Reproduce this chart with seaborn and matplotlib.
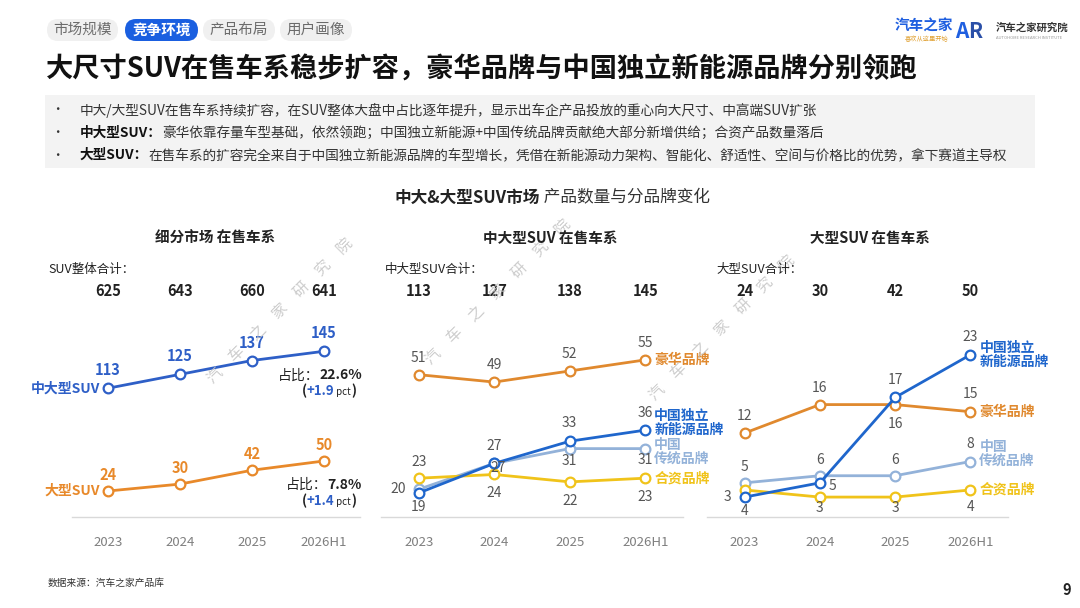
import matplotlib
matplotlib.use("Agg")
import matplotlib.pyplot as plt
import seaborn as sns
import pandas as pd
from matplotlib.patches import FancyBboxPatch, Rectangle
from matplotlib.transforms import blended_transform_factory

# ---- data ----
years = ["2023", "2024", "2025", "2026H1"]
suv_total = [625, 643, 660, 641]
mid_large_total = [113, 127, 138, 145]
large_total = [24, 30, 42, 50]

seg_mid_large = [113, 125, 137, 145]
seg_large = [24, 30, 42, 50]

mid_luxury = [51, 49, 52, 55]
mid_cn_nev = [19, 27, 33, 36]
mid_cn_trad = [20, 27, 31, 31]
mid_jv = [23, 24, 22, 23]

lg_luxury = [12, 16, 16, 15]
lg_cn_nev = [3, 5, 17, 23]
lg_cn_trad = [5, 6, 6, 8]
lg_jv = [4, 3, 3, 4]

tabs = ["市场规模", "竞争环境", "产品布局", "用户画像"]
title = "大尺寸SUV在售车系稳步扩容，豪华品牌与中国独立新能源品牌分别领跑"
bullets = [
    ("", "中大/大型SUV在售车系持续扩容，在SUV整体大盘中占比逐年提升，显示出车企产品投放的重心向大尺寸、中高端SUV扩张"),
    ("中大型SUV：", "豪华依靠存量车型基础，依然领跑；中国独立新能源+中国传统品牌贡献绝大部分新增供给；合资产品数量落后"),
    ("大型SUV：", "在售车系的扩容完全来自于中国独立新能源品牌的车型增长，凭借在新能源动力架构、智能化、舒适性、空间与价格比的优势，拿下赛道主导权"),
]

BLUE = "#2e5fc7"
ORANGE = "#e8892a"
LUX = "#e0892e"
NEV = "#1f66cc"
TRAD = "#93b2d9"
JV = "#f0c31a"
GRAY = "#555555"

W, H = 1080, 608
sns.set_style("white")
plt.rcParams["font.family"] = ["Noto Sans CJK SC", "DejaVu Sans"]

fig = plt.figure(figsize=(W / 100, H / 100), dpi=100)
fig.patch.set_facecolor("white")
renderer = fig.canvas.get_renderer()


def inch(x, y):
    return x / 100, (H - y) / 100


def rich(x, y, parts, ha="left", va="center"):
    """draw text pieces side by side, x/y in pixels from top-left"""
    texts = []
    for s, kw in parts:
        t = fig.text(0, 0, s, transform=fig.dpi_scale_trans, ha="left", va=va, **kw)
        texts.append(t)
    widths = [t.get_window_extent(renderer).width for t in texts]
    total = sum(widths)
    start = x - total if ha == "right" else (x - total / 2 if ha == "center" else x)
    for t, w in zip(texts, widths):
        t.set_position(inch(start, y))
        start += w


# ---- header ----
tab_x = [(47, 118), (125, 198), (203, 275), (280, 352)]
for name, (x0, x1) in zip(tabs, tab_x):
    active = name == "竞争环境"
    box = FancyBboxPatch(inch(x0, 41), (x1 - x0) / 100, 0.22,
                         boxstyle="round,pad=0,rounding_size=0.11",
                         transform=fig.dpi_scale_trans,
                         facecolor="#1a5fe0" if active else "#f0f0f0",
                         edgecolor="none")
    fig.patches.append(box)
    fig.text(*inch((x0 + x1) / 2, 30), name, transform=fig.dpi_scale_trans,
             ha="center", va="center", fontsize=10.5,
             color="white" if active else "#6b6b6b",
             fontweight="bold" if active else "normal")

fig.text(*inch(46, 70), title, transform=fig.dpi_scale_trans, ha="left",
         va="center", fontsize=19.6, fontweight="bold", color="#111111")

# logos
fig.text(*inch(895, 26), "汽车之家", transform=fig.dpi_scale_trans, ha="left",
         va="center", fontsize=10.5, fontweight="bold", color="#1f5fe0")
fig.text(*inch(905, 39), "喜欢从这里开始", transform=fig.dpi_scale_trans, ha="left",
         va="center", fontsize=4.5, color="#e0a030")
rich(955, 31, [("A", dict(fontsize=15, fontweight="bold", color="#1f5fe0")),
               ("R", dict(fontsize=15, fontweight="bold", color="#2a4fa8"))])
fig.text(*inch(996, 28), "汽车之家研究院", transform=fig.dpi_scale_trans, ha="left",
         va="center", fontsize=7.5, fontweight="bold", color="#333333")
fig.text(*inch(996, 38), "AUTOHOME RESEARCH INSTITUTE", transform=fig.dpi_scale_trans,
         ha="left", va="center", fontsize=3, color="#999999")

# bullet box
fig.patches.append(Rectangle(inch(45, 168), 990 / 100, 73 / 100,
                             transform=fig.dpi_scale_trans,
                             facecolor="#f3f3f3", edgecolor="none"))
for i, (head, body) in enumerate(bullets):
    y = 110 + i * 22.5
    fig.text(*inch(57, y), "•", transform=fig.dpi_scale_trans, ha="center",
             va="center", fontsize=9, color="#333333")
    parts = []
    if head:
        parts.append((head, dict(fontsize=9.85, fontweight="bold", color="#111111")))
    parts.append((body, dict(fontsize=9.85, color="#333333")))
    rich(80, y, parts)

rich(552, 198, [("中大&大型SUV市场", dict(fontsize=12, fontweight="bold", color="#222222")),
                (" 产品数量与分品牌变化", dict(fontsize=12, color="#333333"))],
     ha="center")

# watermarks
for cx, cy in [(280, 311), (498, 292), (722, 328)]:
    fig.text(*inch(cx, cy), "汽　车　之　家　研　究　院", transform=fig.dpi_scale_trans,
             ha="center", va="center", rotation=45, fontsize=11,
             color="#c4c4c4", alpha=0.85, zorder=0)

# ---- panels ----
panels = [
    dict(left=72, width=288, ylim=(1.5, 189.4), title="细分市场 在售车系", tx=215,
         total_label="SUV整体合计：", lx=48, totals=suv_total,
         series=[("中大型SUV", seg_mid_large, BLUE), ("大型SUV", seg_large, ORANGE)]),
    dict(left=381, width=302, ylim=(12.5, 71.2), title="中大型SUV 在售车系", tx=550,
         total_label="中大型SUV合计：", lx=385, totals=mid_large_total,
         series=[("豪华品牌", mid_luxury, LUX), ("中国传统品牌", mid_cn_trad, TRAD),
                 ("合资品牌", mid_jv, JV), ("中国独立新能源品牌", mid_cn_nev, NEV)]),
    dict(left=707, width=301, ylim=(0.2, 30.7), title="大型SUV 在售车系", tx=870,
         total_label="大型SUV合计：", lx=716, totals=large_total,
         series=[("豪华品牌", lg_luxury, LUX), ("中国传统品牌", lg_cn_trad, TRAD),
                 ("合资品牌", lg_jv, JV), ("中国独立新能源品牌", lg_cn_nev, NEV)]),
]

# label offsets in pixels (dx, dy up)
offsets = [
    {"中大型SUV": [(0, 18)] * 4, "大型SUV": [(0, 16)] * 4},
    {"豪华品牌": [(0, 17)] * 4,
     "中国独立新能源品牌": [(0, -14), (0, 17), (0, 18), (0, 17)],
     "中国传统品牌": [(-13, 0), (4, -5), (0, -12), (0, -11)],
     "合资品牌": [(0, 16), (0, -19), (0, -19), (0, -19)]},
    {"豪华品牌": [(0, 17), (0, 17), (0, -19), (0, 18)],
     "中国独立新能源品牌": [(-13, 0), (9, -3), (0, 17), (0, 18)],
     "中国传统品牌": [(0, 16), (0, 16), (0, 16), (0, 18)],
     "合资品牌": [(0, -21), (0, -11), (0, -11), (0, -17)]},
]
end_labels = [
    {},
    {"豪华品牌": ("豪华品牌", 0), "中国独立新能源品牌": ("中国独立\n新能源品牌", 7),
     "中国传统品牌": ("中国\n传统品牌", -3), "合资品牌": ("合资品牌", 0)},
    {"豪华品牌": ("豪华品牌", 0), "中国独立新能源品牌": ("中国独立\n新能源品牌", 0),
     "中国传统品牌": ("中国\n传统品牌", 8), "合资品牌": ("合资品牌", 0)},
]

axes = []
for p_i, p in enumerate(panels):
    ax = fig.add_axes([p["left"] / W, (H - 517) / H, p["width"] / W, 217 / H])
    axes.append(ax)
    rows = []
    for name, vals, col in p["series"]:
        for yr, v in zip(years, vals):
            rows.append({"year": yr, "value": v, "series": name})
    df = pd.DataFrame(rows)
    pal = {name: col for name, vals, col in p["series"]}
    sns.lineplot(data=df, x="year", y="value", hue="series", palette=pal,
                 marker="o", markersize=7, linewidth=2, sort=False,
                 legend=False, ax=ax)
    for line in ax.lines:
        line.set_markeredgecolor(line.get_color())
        line.set_markerfacecolor("white")
        line.set_markeredgewidth(1.6)

    ax.set_xlim(-0.5, 3.5)
    ax.set_ylim(*p["ylim"])
    ax.set_xlabel("")
    ax.set_ylabel("")
    ax.set_yticks([])
    ax.set_facecolor("none")
    for s in ["top", "left", "right"]:
        ax.spines[s].set_visible(False)
    ax.spines["bottom"].set_color("#d9d9d9")
    ax.spines["bottom"].set_linewidth(1)
    ax.tick_params(axis="x", length=0, pad=14, labelsize=9.5, labelcolor="#7f7f7f")

    trans = blended_transform_factory(ax.transData, ax.transAxes)
    for i, t in enumerate(p["totals"]):
        ax.text(i, (517 - 291) / 217, str(t), transform=trans, ha="center",
                va="center", fontsize=10.5, fontweight="bold", color="#222222")
    fig.text(*inch(p["lx"], 269), p["total_label"], transform=fig.dpi_scale_trans,
             ha="left", va="center", fontsize=9, color="#222222")
    fig.text(*inch(p["tx"], 238), p["title"], transform=fig.dpi_scale_trans,
             ha="center", va="center", fontsize=10.5, fontweight="bold", color="#222222")

    for name, vals, col in p["series"]:
        for i, v in enumerate(vals):
            dx, dy = offsets[p_i][name][i]
            ha = "right" if dx < -5 else ("left" if dx > 5 else "center")
            ax.annotate(str(v), (i, v), xytext=(dx, dy), textcoords="offset pixels",
                        ha=ha, va="center", fontsize=10.5 if p_i == 0 else 10,
                        color=col if p_i == 0 else GRAY,
                        fontweight="bold" if p_i == 0 else "normal")
        if name in end_labels[p_i]:
            lab, dy = end_labels[p_i][name]
            ax.annotate(lab, (3, vals[3]), xytext=(9, dy), textcoords="offset pixels",
                        ha="left", va="center", fontsize=10, fontweight="bold",
                        color=col, linespacing=1.0, annotation_clip=False)
        if p_i == 0:
            ax.annotate(name, (0, vals[0]), xytext=(-8, 0), textcoords="offset pixels",
                        ha="right", va="center", fontsize=10, fontweight="bold",
                        color=col, annotation_clip=False)

# share notes in first panel
ax0 = axes[0]
share = [("22.6%", "+1.9", seg_mid_large[3]), ("7.8%", "+1.4", seg_large[3])]
for pct, delta, v in share:
    xd, yd = ax0.transData.transform((3, v))
    xp, yp = xd, H - yd
    rich(xp + 38, yp + 24, [("占比：", dict(fontsize=10, color="#222222")),
                            (pct, dict(fontsize=10, fontweight="bold", color="#222222"))],
         ha="right", va="center")
    rich(xp + 32, yp + 44, [("(", dict(fontsize=9.5, fontweight="bold", color="#222222")),
                            (delta, dict(fontsize=9.5, fontweight="bold", color=BLUE)),
                            (" pct", dict(fontsize=7, color="#222222")),
                            (")", dict(fontsize=9.5, fontweight="bold", color="#222222"))],
         ha="right", va="baseline")

# footer
fig.text(*inch(48, 583), "数据来源：汽车之家产品库", transform=fig.dpi_scale_trans,
         ha="left", va="center", fontsize=7, color="#333333")
fig.text(*inch(1067, 590), "9", transform=fig.dpi_scale_trans, ha="center",
         va="center", fontsize=10.5, fontweight="bold", color="#222222")

fig.savefig("out.png", dpi=100, facecolor="white")
